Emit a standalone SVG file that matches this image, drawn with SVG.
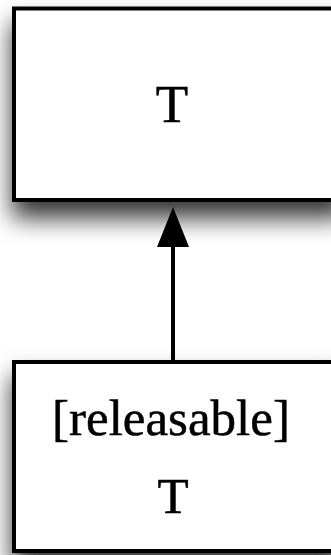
<svg xmlns="http://www.w3.org/2000/svg" width="331" height="555" viewBox="0 0 331 555">
  <defs>
    <filter id="shadow" x="-20%" y="-20%" width="140%" height="170%">
      <feDropShadow dx="0" dy="16" stdDeviation="12" flood-color="#000" flood-opacity="0.8"/>
    </filter>
    <style>
      .box { fill: #fff; stroke: #000; stroke-width: 4; }
      .label { font-family: "Liberation Serif", "Times New Roman", serif; font-size: 51px; fill: #000; stroke: #000; stroke-width: 0.5; text-anchor: middle; }
      .edge { stroke: #000; stroke-width: 4; fill: none; }
      .head { fill: #000; }
    </style>
  </defs>
  <rect width="331" height="555" fill="#fff"/>

  <g id="node-t">
    <rect class="box" x="14" y="8.5" width="330" height="191.5" filter="url(#shadow)"/>
    <text class="label" x="172" y="122" style="font-size:53px">T</text>
  </g>

  <g id="node-releasable-t">
    <rect class="box" x="14" y="362" width="330" height="189" filter="url(#shadow)"/>
    <text class="label" x="171" y="435">[releasable]</text>
    <text class="label" x="173" y="513">T</text>
  </g>

  <g id="connectors">
    <line class="edge" x1="173" y1="362" x2="173" y2="246"/>
    <path class="head" d="M173 207 L189 247 L157 247 Z"/>
  </g>
</svg>
